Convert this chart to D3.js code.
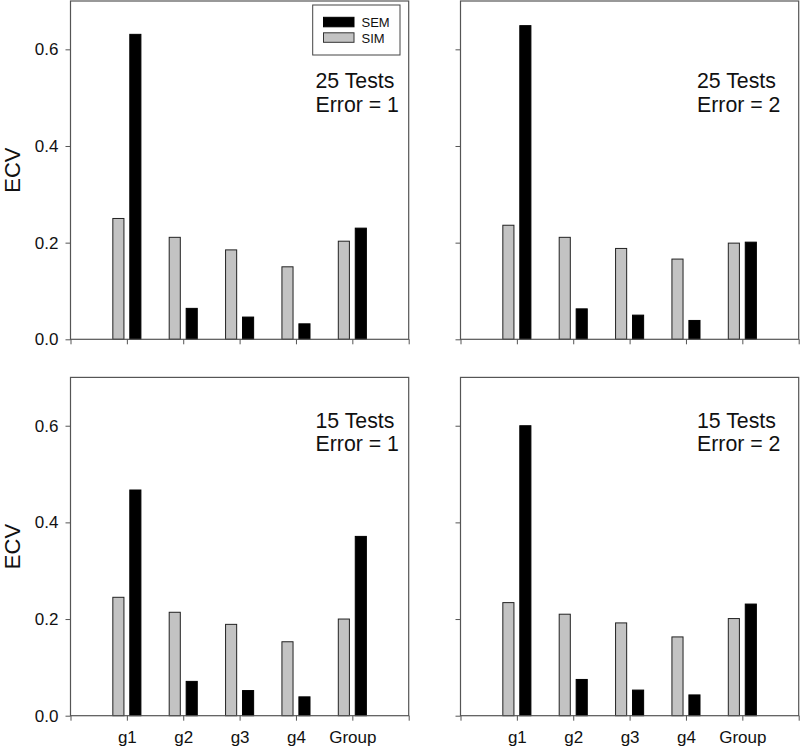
<!DOCTYPE html>
<html><head><meta charset="utf-8">
<script src="https://cdn.jsdelivr.net/npm/d3@7"></script>
<style>
body{margin:0;background:#fff;}
text{font-family:Arial,"Liberation Sans",sans-serif;}
</style></head>
<body>
<svg id="chart" width="800" height="747"></svg>
<script>
const categories = ["g1","g2","g3","g4","Group"];
const seriesNames = ["SEM","SIM"];
const yTickValues = [0, 0.2, 0.4, 0.6];
const yTickLabels = ["0.0","0.2","0.4","0.6"];
const panelTitles = [["25 Tests","Error = 1"],["25 Tests","Error = 2"],["15 Tests","Error = 1"],["15 Tests","Error = 2"]];

const sim_25_e1 = [0.250, 0.211, 0.185, 0.150, 0.203];
const sem_25_e1 = [0.631, 0.064, 0.046, 0.032, 0.230];
const sim_25_e2 = [0.236, 0.211, 0.188, 0.166, 0.199];
const sem_25_e2 = [0.649, 0.063, 0.050, 0.039, 0.201];
const sim_15_e1 = [0.245, 0.214, 0.189, 0.153, 0.200];
const sem_15_e1 = [0.467, 0.071, 0.052, 0.039, 0.371];
const sim_15_e2 = [0.234, 0.210, 0.192, 0.163, 0.201];
const sem_15_e2 = [0.600, 0.075, 0.053, 0.043, 0.231];

const panelData = [
  {sim: sim_25_e1, sem: sem_25_e1},
  {sim: sim_25_e2, sem: sem_25_e2},
  {sim: sim_15_e1, sem: sem_15_e1},
  {sim: sim_15_e2, sem: sem_15_e2}
];

const svg = d3.select("#chart");
const W = 338.2, H = 338.3;
const lefts = [70.5, 460.5];
const tops = [1, 377.4];
const frameColor = "#555";
const grayFill = "#c3c3c3";

const x = d3.scaleLinear().domain([0, 6]).range([0, W]);
const y = d3.scaleLinear().domain([0, 0.7]).range([H, 0]);
const barW = 0.197, gap = 0.052;

panelData.forEach((pd, i) => {
  const col = i % 2, row = Math.floor(i / 2);
  const g = svg.append("g").attr("transform", `translate(${lefts[col]},${tops[row]})`);

  // bars
  categories.forEach((c, j) => {
    const cx = j + 1;
    g.append("rect")
      .attr("x", x(cx - gap - barW)).attr("width", x(barW) - x(0))
      .attr("y", y(pd.sim[j])).attr("height", y(0) - y(pd.sim[j]))
      .attr("fill", grayFill).attr("stroke", "#222").attr("stroke-width", 1);
    g.append("rect")
      .attr("x", x(cx + gap)).attr("width", x(barW) - x(0))
      .attr("y", y(pd.sem[j])).attr("height", y(0) - y(pd.sem[j]))
      .attr("fill", "#000").attr("stroke", "#000").attr("stroke-width", 1);
  });

  // x axis
  const xa = d3.axisBottom(x).tickValues([0,1,2,3,4,5,6]).tickSize(5).tickPadding(6)
    .tickFormat(d => (row === 1 && d >= 1 && d <= 5) ? categories[d - 1] : "");
  const gx = g.append("g").attr("transform", `translate(0,${H})`).call(xa);
  gx.select(".domain").remove();
  gx.selectAll("line").attr("stroke", frameColor);
  gx.selectAll("text").attr("font-size", "17px").attr("fill", "#111").attr("dy", "0.95em");

  // y axis
  const ya = d3.axisLeft(y).tickValues(yTickValues).tickSize(5).tickPadding(7)
    .tickFormat((d, k) => col === 0 ? yTickLabels[k] : "");
  const gy = g.append("g").call(ya);
  gy.select(".domain").remove();
  gy.selectAll("line").attr("stroke", frameColor);
  gy.selectAll("text").attr("font-size", "17px").attr("fill", "#111");

  // frame
  g.append("rect").attr("x", 0).attr("y", 0).attr("width", W).attr("height", H)
    .attr("fill", "none").attr("stroke", frameColor).attr("stroke-width", 1.2);

  // annotation
  const tx = col === 0 ? 245 : 236.5;
  const ty = row === 0 ? 87.3 : 50.3;
  const t = g.append("text").attr("x", tx).attr("y", ty).attr("font-size", "21.3px").attr("fill", "#111");
  t.append("tspan").attr("x", tx).text(panelTitles[i][0]);
  t.append("tspan").attr("x", tx).attr("dy", 23.4).text(panelTitles[i][1]);

  // y label
  if (col === 0) {
    g.append("text")
      .attr("transform", `translate(${-51},${H / 2}) rotate(-90)`)
      .attr("text-anchor", "middle").attr("font-size", "22px").attr("fill", "#111")
      .text("ECV");
  }

  // legend
  if (i === 0) {
    const lg = g.append("g");
    lg.append("rect").attr("x", 242.2).attr("y", 4).attr("width", 87.3).attr("height", 50)
      .attr("fill", "#fff").attr("stroke", "#444").attr("stroke-width", 1);
    const fills = ["#000", grayFill];
    seriesNames.forEach((s, k) => {
      lg.append("rect").attr("x", 253).attr("y", 16.3 + k * 15.5).attr("width", 30.5).attr("height", 9.5)
        .attr("fill", fills[k]).attr("stroke", k === 0 ? "#000" : "#333").attr("stroke-width", 1);
      lg.append("text").attr("x", 291).attr("y", 25.8 + k * 15.8).attr("font-size", "13px")
        .attr("fill", "#111").text(s);
    });
  }
});
</script>
</body></html>
